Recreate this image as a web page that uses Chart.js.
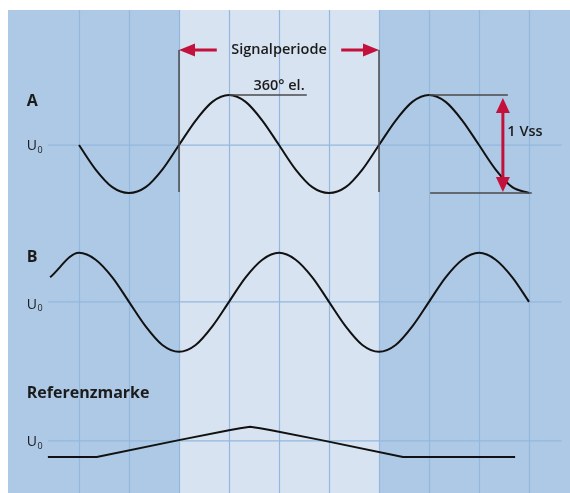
<!DOCTYPE html>
<html>
<head>
  <title>Signalperiode</title>
  <script src="https://cdn.jsdelivr.net/npm/chart.js@4.4.0/dist/chart.umd.min.js"></script>
  <style>
    body { margin: 0; background: #fff; }
  </style>
</head>
<body>
  <canvas id="myChart" width="570" height="493"></canvas>
  <script>
    // x axis: electrical degrees (0 = first grid line), y axis: volts, 1 Vss = 1 unit
    var xMin = -127.8, xMax = 883.8;
    var yMin = -3.551, yMax = 1.378;
    var gridDegrees = [0, 90, 180, 270, 360, 450, 540, 630, 720, 810];
    var periodStart = 180, periodEnd = 540;

    // U0 level of each track
    var zeroA = 0, zeroB = -1.6, zeroRef = -3.02;
    var zeroLineFrom = -56, zeroLineTo = 869;

    // track A
    var degA = [0, 30, 60, 90, 120, 150, 180, 210, 240, 270, 300, 330, 360, 390,
                420, 450, 480, 510, 540, 570, 600, 630, 660, 690, 720, 750, 780, 810];
    var signalA = [0, -0.25, -0.43, -0.49, -0.43, -0.25, 0, 0.25, 0.44, 0.51, 0.44, 0.25, 0, -0.25,
                   -0.43, -0.49, -0.43, -0.25, 0, 0.25, 0.44, 0.51, 0.44, 0.25, 0, -0.25, -0.43, -0.49];

    // track B
    var degB = [-52, 0, 30, 60, 90, 120, 150, 180, 210, 240, 270, 300, 330, 360, 390,
                420, 450, 480, 510, 540, 570, 600, 630, 660, 690, 720, 750, 780, 810];
    var signalB = [0.25, 0.5, 0.43, 0.25, 0, -0.25, -0.44, -0.51, -0.44, -0.25, 0, 0.25, 0.43, 0.5, 0.43,
                   0.25, 0, -0.25, -0.44, -0.51, -0.44, -0.25, 0, 0.25, 0.43, 0.5, 0.43, 0.25, 0];

    // reference mark
    var degRef = [-56, 32, 182, 270, 290, 308, 326, 346, 434, 583, 785];
    var signalRef = [-0.163, -0.163, 0.011, 0.109, 0.13, 0.145, 0.13, 0.109, 0.011, -0.163, -0.163];

    var darkBlue = '#adc9e5';
    var lightBlue = '#d7e3f1';
    var gridBlue = '#93b7de';
    var red = '#c3113c';
    var ink = '#1b1b1b';
    var font = '"Open Sans", sans-serif';

    function toPoints(xs, ys, offset) {
      return xs.map(function(x, i) { return { x: x, y: ys[i] + offset }; });
    }

    function zeroLine(level) {
      return {
        data: [{ x: zeroLineFrom, y: level }, { x: zeroLineTo, y: level }],
        borderColor: gridBlue,
        borderWidth: 1.2,
        pointRadius: 0
      };
    }

    function arrowHead(ctx, tx, ty, dx, dy, len, half) {
      // tip at (tx,ty), pointing in direction (dx,dy)
      ctx.beginPath();
      ctx.moveTo(tx, ty);
      ctx.lineTo(tx - dx * len - dy * half, ty - dy * len + dx * half);
      ctx.lineTo(tx - dx * len + dy * half, ty - dy * len - dx * half);
      ctx.closePath();
      ctx.fill();
    }

    function drawU0(ctx, x, y) {
      ctx.font = '14px ' + font;
      ctx.textAlign = 'left';
      ctx.textBaseline = 'middle';
      ctx.fillText('U', x, y);
      var w = ctx.measureText('U').width;
      ctx.font = '9px ' + font;
      ctx.fillText('0', x + w + 0.5, y + 4);
    }

    var decor = {
      id: 'decor',
      beforeDatasetsDraw: function(chart) {
        var ctx = chart.ctx, a = chart.chartArea;
        var X = function(v) { return chart.scales.x.getPixelForValue(v); };
        ctx.save();
        ctx.fillStyle = darkBlue;
        ctx.fillRect(a.left, a.top, a.right - a.left, a.bottom - a.top);
        ctx.fillStyle = lightBlue;
        ctx.fillRect(X(periodStart), a.top, X(periodEnd) - X(periodStart), a.bottom - a.top);
        ctx.strokeStyle = gridBlue;
        ctx.lineWidth = 1.2;
        gridDegrees.forEach(function(d) {
          var px = Math.round(X(d)) + 0.5;
          ctx.beginPath();
          ctx.moveTo(px, a.top);
          ctx.lineTo(px, a.bottom);
          ctx.stroke();
        });
        ctx.restore();
      },
      afterDatasetsDraw: function(chart) {
        var ctx = chart.ctx;
        var X = function(v) { return chart.scales.x.getPixelForValue(v); };
        var Y = function(v) { return chart.scales.y.getPixelForValue(v); };
        ctx.save();

        // period markers
        ctx.strokeStyle = '#4a4a4a';
        ctx.lineWidth = 1.5;
        [periodStart, periodEnd].forEach(function(d) {
          ctx.beginPath();
          ctx.moveTo(X(d), Y(zeroA + 0.97));
          ctx.lineTo(X(d), Y(zeroA - 0.48));
          ctx.stroke();
        });
        // underline of 360° el.
        ctx.beginPath();
        ctx.moveTo(X(270), Y(zeroA + 0.51));
        ctx.lineTo(X(410), Y(zeroA + 0.51));
        ctx.stroke();
        // 1 Vss reference lines
        ctx.beginPath();
        ctx.moveTo(X(630), Y(zeroA + 0.51));
        ctx.lineTo(X(772), Y(zeroA + 0.51));
        ctx.moveTo(X(632), Y(zeroA - 0.49));
        ctx.lineTo(X(815), Y(zeroA - 0.49));
        ctx.stroke();

        // red arrows
        ctx.strokeStyle = red;
        ctx.fillStyle = red;
        ctx.lineWidth = 3;
        var ay = Y(zeroA + 0.97);
        ctx.beginPath();
        ctx.moveTo(X(248), ay);
        ctx.lineTo(X(periodStart) + 12, ay);
        ctx.moveTo(X(472), ay);
        ctx.lineTo(X(periodEnd) - 12, ay);
        ctx.stroke();
        arrowHead(ctx, X(periodStart), ay, -1, 0, 16, 6.5);
        arrowHead(ctx, X(periodEnd), ay, 1, 0, 16, 6.5);

        var vx = X(763);
        ctx.beginPath();
        ctx.moveTo(vx, Y(zeroA + 0.48) + 12);
        ctx.lineTo(vx, Y(zeroA - 0.48) - 12);
        ctx.stroke();
        arrowHead(ctx, vx, Y(zeroA + 0.48), 0, -1, 15, 7);
        arrowHead(ctx, vx, Y(zeroA - 0.48), 0, 1, 15, 7);

        // texts
        ctx.fillStyle = ink;
        ctx.textBaseline = 'middle';
        ctx.textAlign = 'center';
        ctx.font = '600 14.5px ' + font;
        ctx.fillText('Signalperiode', X(360), ay);
        ctx.fillText('360° el.', X(360), Y(zeroA + 0.6));
        ctx.textAlign = 'left';
        ctx.fillText('1 Vss', X(771), Y(zeroA + 0.13));

        var lx = -94;
        ctx.font = 'bold 16px ' + font;
        ctx.fillText('A', X(lx), Y(zeroA + 0.44));
        ctx.fillText('B', X(lx), Y(zeroB + 0.45));
        ctx.fillText('Referenzmarke', X(lx), Y(zeroRef + 0.49));

        drawU0(ctx, X(lx), Y(zeroA - 0.01));
        drawU0(ctx, X(lx), Y(zeroB - 0.03));
        drawU0(ctx, X(lx), Y(zeroRef - 0.01));

        ctx.restore();
      }
    };

    function wave(points, cubic) {
      return {
        data: points,
        borderColor: '#111',
        borderWidth: 2,
        pointRadius: 0,
        tension: 0,
        cubicInterpolationMode: cubic ? 'monotone' : 'default'
      };
    }

    var ctx = document.getElementById('myChart').getContext('2d');
    var myChart = new Chart(ctx, {
      type: 'line',
      data: {
        datasets: [
          wave(toPoints(degA, signalA, zeroA), true),
          wave(toPoints(degB, signalB, zeroB), true),
          wave(toPoints(degRef, signalRef, zeroRef), false),
          zeroLine(zeroA),
          zeroLine(zeroB),
          zeroLine(zeroRef)
        ]
      },
      options: {
        responsive: false,
        animation: false,
        layout: { padding: { left: 8, top: 10, right: 0, bottom: 0 } },
        plugins: { legend: { display: false }, tooltip: { enabled: false } },
        scales: {
          x: { type: 'linear', min: xMin, max: xMax, display: false },
          y: { type: 'linear', min: yMin, max: yMax, display: false }
        }
      },
      plugins: [decor]
    });
  </script>
</body>
</html>
